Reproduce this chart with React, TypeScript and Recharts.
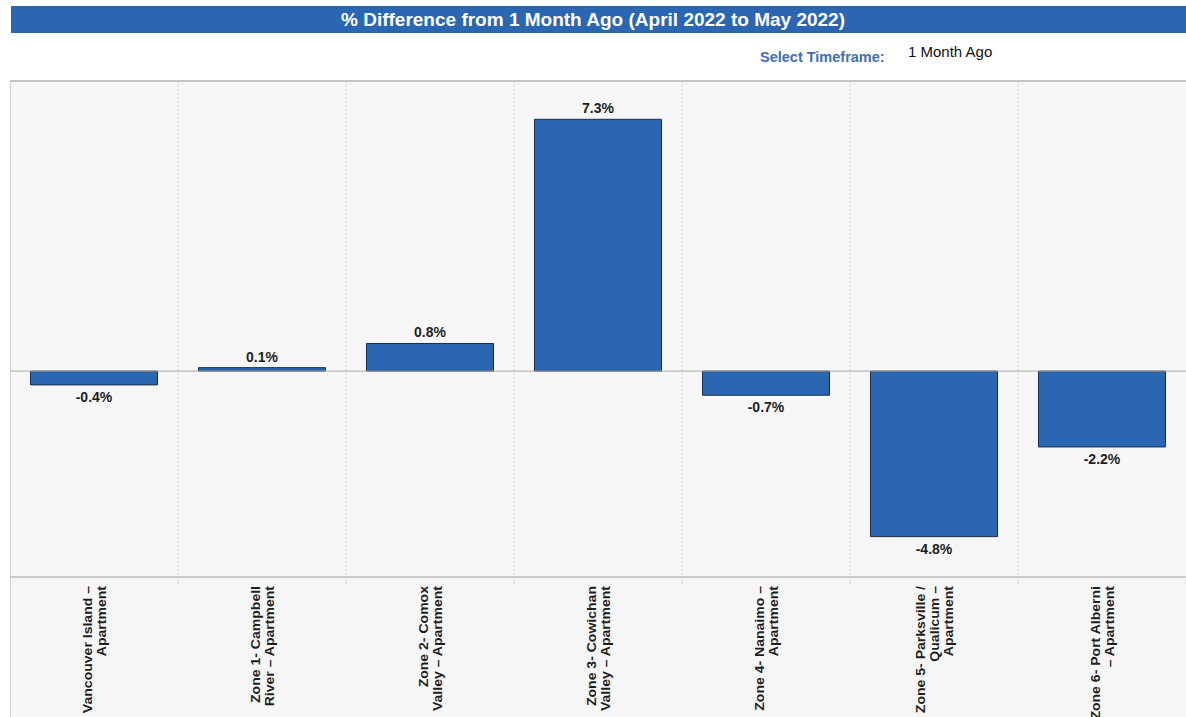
import React from "react";
import { BarChart, Bar, XAxis, YAxis, CartesianGrid, ReferenceLine, LabelList } from "recharts";

const categories = [
  "Vancouver Island – Apartment",
  "Zone 1- Campbell River – Apartment",
  "Zone 2- Comox Valley – Apartment",
  "Zone 3- Cowichan Valley – Apartment",
  "Zone 4- Nanaimo – Apartment",
  "Zone 5- Parksville / Qualicum – Apartment",
  "Zone 6- Port Alberni – Apartment",
];
const tickLines = [
  ["Vancouver Island –", "Apartment"],
  ["Zone 1- Campbell", "River – Apartment"],
  ["Zone 2- Comox", "Valley – Apartment"],
  ["Zone 3- Cowichan", "Valley – Apartment"],
  ["Zone 4- Nanaimo –", "Apartment"],
  ["Zone 5- Parksville /", "Qualicum –", "Apartment"],
  ["Zone 6- Port Alberni", "– Apartment"],
];
const pctChange = [-0.4, 0.1, 0.8, 7.3, -0.7, -4.8, -2.2];

const data = categories.map((name, i) => ({ name, value: pctChange[i], lines: tickLines[i] }));

const FONT = "'Liberation Sans', Arial, sans-serif";
const CHART_W = 1176;
const CHART_H = 636;
const BAND = CHART_W / categories.length;

const XTick = (props: any) => {
  const { x, y, payload, index } = props;
  const lines: string[] = tickLines[index] || [payload.value];
  const spacing = 14;
  const n = lines.length;
  return (
    <g>
      <line x1={x + BAND / 2} x2={x + BAND / 2} y1={y - 8} y2={y - 2} stroke="#cfcfcf" strokeDasharray="2 1" />
      {lines.map((ln, i) => {
        const cx = x + (i - (n - 1) / 2) * spacing + 4.5;
        return (
          <g key={i} transform={`translate(${cx},${y - 1}) rotate(-90)`}>
            <text
              transform="scale(1.04,1)"
              x={0}
              y={0}
              textAnchor="end"
              fontFamily={FONT}
              fontWeight="bold"
              fontSize={13.5}
              fill="#1e1e1e"
            >
              {ln}
            </text>
          </g>
        );
      })}
    </g>
  );
};

const ValueLabel = (props: any) => {
  const { x, y, width, height, value } = props;
  const top = Math.min(y, y + height);
  const bottom = Math.max(y, y + height);
  const cx = x + width / 2;
  const ty = value >= 0 ? top - 6 : bottom + 17;
  return (
    <text x={cx} y={ty} textAnchor="middle" fontFamily={FONT} fontWeight="bold" fontSize={14} fill="#1e1e1e">
      {`${value.toFixed(1)}%`}
    </text>
  );
};

export default function App() {
  return (
    <div style={{ position: "absolute", left: 0, top: 0, width: 1186, height: 717, background: "#ffffff", overflow: "hidden" }}>
      <div
        style={{
          position: "absolute",
          left: 11,
          top: 6,
          width: 1175,
          height: 27,
          background: "#2a66b1",
          color: "#ffffff",
          fontFamily: FONT,
          fontWeight: "bold",
          fontSize: 19,
          lineHeight: "27px",
          textAlign: "center",
        }}
      >
        <span style={{ position: "absolute", left: 0, width: 1186, textAlign: "center", marginLeft: -11 }}>
          % Difference from 1 Month Ago (April 2022 to May 2022)
        </span>
      </div>
      <div
        style={{
          position: "absolute",
          left: 760,
          top: 49,
          fontFamily: FONT,
          fontWeight: "bold",
          fontSize: 14.5,
          color: "#3d6fb3",
          whiteSpace: "nowrap",
        }}
      >
        Select Timeframe:
      </div>
      <div
        style={{
          position: "absolute",
          left: 908,
          top: 43,
          fontFamily: FONT,
          fontSize: 15,
          color: "#111111",
          whiteSpace: "nowrap",
        }}
      >
        1 Month Ago
      </div>
      <div
        style={{
          position: "absolute",
          left: 10,
          top: 80,
          width: CHART_W,
          height: CHART_H + 1,
          background: "#f6f6f6",
          borderTop: "2px solid #c4c4c4",
          borderLeft: "1px solid #cfcfcf",
          boxSizing: "border-box",
        }}
      />
      <div style={{ position: "absolute", left: 10, top: 81 }}>
        <BarChart
          width={CHART_W}
          height={CHART_H}
          data={data}
          margin={{ top: 0, right: 0, bottom: 0, left: 0 }}
          barCategoryGap="12.2%"
        >
          <CartesianGrid
            horizontal={false}
            vertical={true}
            stroke="#d2d2d2"
            strokeDasharray="2 2"
            verticalCoordinatesGenerator={(p: any) => {
              const off = p.offset || { left: 0, width: CHART_W };
              const arr: number[] = [];
              for (let i = 1; i < categories.length; i++) arr.push(off.left + (i * off.width) / categories.length);
              return arr;
            }}
          />
          <XAxis
            dataKey="name"
            interval={0}
            height={140}
            tickLine={false}
            tickSize={8}
            axisLine={{ stroke: "#bdbdbd", strokeWidth: 1.5 }}
            tick={<XTick />}
          />
          <YAxis hide type="number" domain={[-5.97, 8.41]} allowDataOverflow />
          <ReferenceLine y={0} stroke="#a8a8a8" strokeWidth={1} />
          <Bar dataKey="value" fill="#2b66b2" stroke="#1d2f48" strokeWidth={1} isAnimationActive={false}>
            <LabelList dataKey="value" content={<ValueLabel />} />
          </Bar>
        </BarChart>
      </div>
    </div>
  );
}
